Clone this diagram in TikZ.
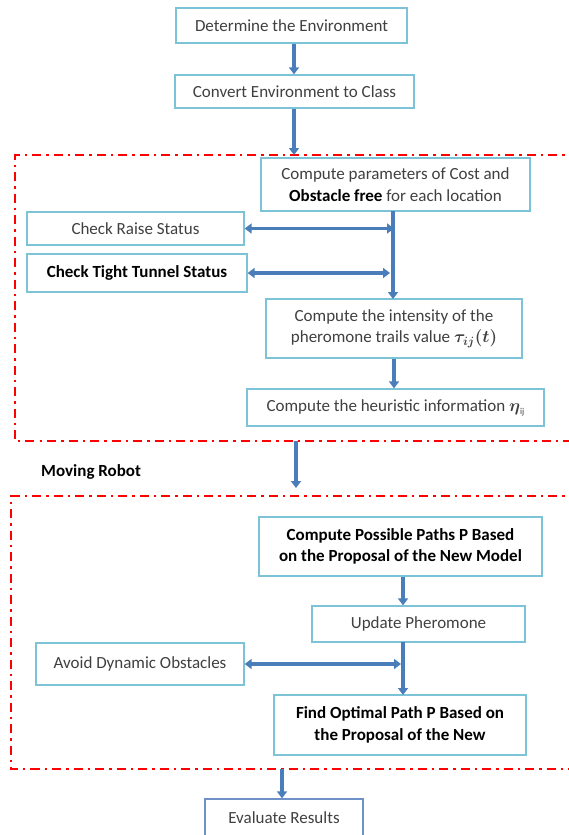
\documentclass[tikz,border=0pt]{standalone}
\usepackage{fontspec}
\usepackage{amsmath,bm}
\setmainfont{Carlito}
\usetikzlibrary{arrows.meta}
\definecolor{boxblue}{RGB}{125,195,216}
\definecolor{evalblue}{RGB}{110,145,200}
\definecolor{arrblue}{RGB}{74,126,187}
\definecolor{txtgray}{RGB}{64,64,64}
\tikzset{
  flowbox/.style={draw=boxblue, line width=1.3pt, fill=white, align=center,
    inner sep=0pt, font=\fontsize{17}{21.5}\selectfont, text=txtgray},
  boldbox/.style={flowbox, font=\fontsize{17}{21.5}\selectfont\bfseries, text=black},
  flowarr/.style={draw=arrblue, line width=3.6pt, -{Triangle[width=10pt,length=7pt]}},
  dblarr/.style={draw=arrblue, line width=3.6pt, {Triangle[width=10pt,length=7pt]}-{Triangle[width=10pt,length=7pt]}},
  redframe/.style={draw=red, line width=2.4pt, dash pattern=on 9pt off 5pt on 2.5pt off 5pt}
}
\begin{document}
\begin{tikzpicture}[x=1pt,y=-1pt]
\useasboundingbox (0,0) rectangle (569,835);
\clip (0,0) rectangle (569,835);
\fill[white] (0,0) rectangle (569,835);
% red frames
\draw[redframe] (600,155) -- (15,155) -- (15,441) -- (600,441);
\draw[redframe] (600,496) -- (11,496) -- (11,769) -- (600,769);
% nodes
\node[flowbox, minimum width=231pt, minimum height=35pt] (det) at (291.5,25.5) {Determine the Environment};
\node[flowbox, minimum width=239pt, minimum height=33pt] (conv) at (294.5,91.5) {Convert Environment to Class};
\node[flowbox, minimum width=269pt, minimum height=53pt] (comp) at (395.5,184.5) {Compute parameters of Cost and\\\textbf{\color{black}Obstacle free} for each location};
\node[flowbox, minimum width=217pt, minimum height=33pt] (raise) at (135.5,228.5) {Check Raise Status};
\node[boldbox, minimum width=220pt, minimum height=38pt] (tight) at (137,273) {Check Tight Tunnel Status};
\node[flowbox, minimum width=256pt, minimum height=59pt] (inten) at (394,328.5) {Compute the intensity of the\\pheromone trails value {\boldmath$\tau_{ij}(t)$}};
\node[flowbox, minimum width=297pt, minimum height=37pt] (heur) at (395.5,407.5) {Compute the heuristic information {\boldmath$\eta$}{\fontsize{9}{9}\selectfont\raisebox{-3pt}{ij}}};
\node[font=\fontsize{17}{20}\selectfont\bfseries, anchor=west, inner sep=0pt] (mov) at (41,472) {Moving Robot};
\node[boldbox, minimum width=283pt, minimum height=59pt] (poss) at (400.5,546.5) {Compute Possible Paths P Based\\on the Proposal of the New Model};
\node[flowbox, minimum width=213pt, minimum height=36pt] (upd) at (418.5,624) {Update Pheromone};
\node[flowbox, minimum width=208pt, minimum height=42pt] (avoid) at (140,664) {Avoid Dynamic Obstacles};
\node[boldbox, minimum width=252pt, minimum height=60pt] (find) at (400,725) {Find Optimal Path P Based on\\the Proposal of the New};
\node[flowbox, draw=evalblue, minimum width=158pt, minimum height=38pt] (eval) at (284,818) {Evaluate Results};
% coordinates
\coordinate (r1top) at (294,155);
\coordinate (r1bot) at (296,441);
\coordinate (r1arr) at (296,488);
\coordinate (r2bot) at (282,769);
\coordinate (c1) at (393,211);
\coordinate (c2) at (393,299);
\coordinate (c3) at (403,642);
\coordinate (c4) at (403,695);
% arrows
\draw[flowarr] (det.south -| 294,0) -- (conv.north -| 294,0);
\draw[flowarr] (conv.south -| r1top) -- (r1top);
\draw[flowarr] (c1) -- (c2);
\draw[dblarr] (raise.east) -- (raise.east -| 394,0);
\draw[dblarr] (tight.east) -- (tight.east -| 390,0);
\draw[flowarr] (inten.south -| 394,0) -- (heur.north -| 394,0);
\draw[flowarr] (r1bot) -- (r1arr);
\draw[flowarr] (poss.south -| 403,0) -- (upd.north -| 403,0);
\draw[flowarr] (c3) -- (c4);
\draw[dblarr] (avoid.east) -- (avoid.east -| 401,0);
\draw[flowarr] (r2bot) -- (eval.north -| r2bot);
\end{tikzpicture}
\end{document}
